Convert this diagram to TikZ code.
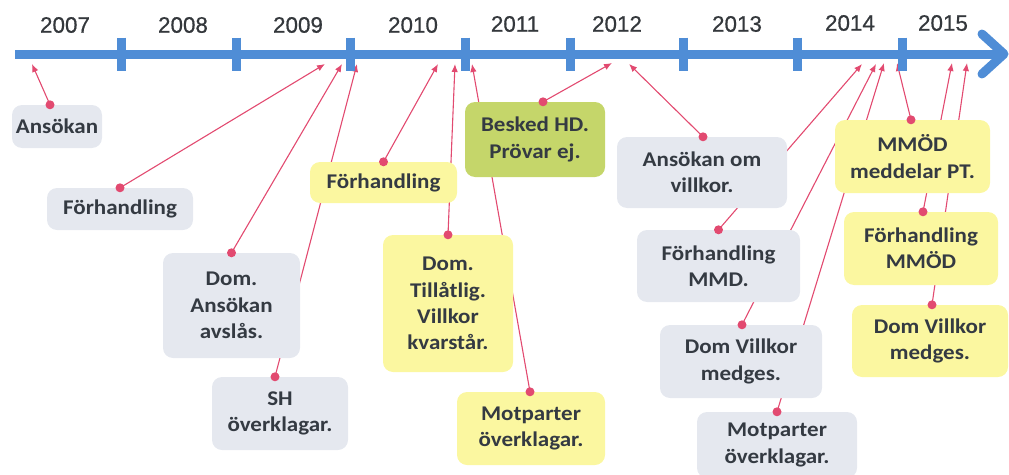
\documentclass[tikz,border=0pt]{standalone}
\usepackage{fontspec}
\setmainfont{Carlito}[FakeStretch=1.1]
\newfontfamily\yearfont{Liberation Sans}[FakeBold=0.6]
\usepackage{tikz}
\usetikzlibrary{arrows.meta,backgrounds}

\definecolor{axisblue}{RGB}{79,141,214}
\definecolor{pinred}{RGB}{226,74,112}
\definecolor{boxgray}{RGB}{229,232,239}
\definecolor{boxyellow}{RGB}{251,247,160}
\definecolor{boxgreen}{RGB}{197,214,106}
\definecolor{textdark}{RGB}{52,58,66}
\definecolor{yeardark}{RGB}{52,56,60}

\tikzset{
  box/.style={rounded corners=10bp,inner sep=0bp,align=center,text=textdark,
    font=\fontsize{21}{26.5}\selectfont\bfseries},
  graybox/.style={box,fill=boxgray},
  yellowbox/.style={box,fill=boxyellow},
  greenbox/.style={box,fill=boxgreen},
  year/.style={text=yeardark,font=\fontsize{22.5}{27}\selectfont\yearfont},
  axis/.style={draw=axisblue,line width=9bp},
  tickmark/.style={draw=axisblue,line width=9bp},
  link/.style={draw=pinred,line width=1.1bp,-{Latex[length=8bp,width=6.5bp]}},
  pin/.style={fill=pinred}
}

\begin{document}
\begin{tikzpicture}

\useasboundingbox (0bp,0bp) rectangle (1009bp,-475bp);

% timeline
\draw [axis] (15bp,-54bp) -- (998bp,-54bp);
\draw [axis,line cap=round,line join=round] (982bp,-34bp) -- (1004bp,-54bp) -- (982bp,-74bp);
\draw [tickmark] (121bp,-37.5bp) -- (121bp,-70.5bp);
\draw [tickmark] (236bp,-37.5bp) -- (236bp,-70.5bp);
\draw [tickmark] (350bp,-37.5bp) -- (350bp,-70.5bp);
\draw [tickmark] (465bp,-37.5bp) -- (465bp,-70.5bp);
\draw [tickmark] (570bp,-37.5bp) -- (570bp,-70.5bp);
\draw [tickmark] (683bp,-37.5bp) -- (683bp,-70.5bp);
\draw [tickmark] (797bp,-37.5bp) -- (797bp,-70.5bp);
\draw [tickmark] (902bp,-37.5bp) -- (902bp,-70.5bp);

\node (y2007) at (65bp,-25bp)[year] {2007};
\node (y2008) at (183bp,-25bp)[year] {2008};
\node (y2009) at (298bp,-25bp)[year] {2009};
\node (y2010) at (413bp,-25bp)[year] {2010};
\node (y2011) at (515bp,-24bp)[year] {2011};
\node (y2012) at (617bp,-24bp)[year] {2012};
\node (y2013) at (737bp,-24bp)[year] {2013};
\node (y2014) at (850bp,-23bp)[year] {2014};
\node (y2015) at (943bp,-23bp)[year] {2015};

% events
\node (ans) at (57bp,-126.5bp)[graybox,minimum width=90bp,minimum height=43bp] {Ansökan};
\node (forh) at (120bp,-209bp)[graybox,minimum width=146bp,minimum height=42bp] {Förhandling};
\node (avslas) at (231.5bp,-305.5bp)[graybox,minimum width=137bp,minimum height=105bp] {Dom.\\Ansökan\\avslås.};
\node (shovk) at (280bp,-413.5bp)[graybox,minimum width=136bp,minimum height=73bp] {SH\\överklagar.};
\node (forhb) at (383.5bp,-182.5bp)[yellowbox,minimum width=147bp,minimum height=41bp] {Förhandling};
\node (tillat) at (448bp,-303.5bp)[yellowbox,minimum width=130bp,minimum height=137bp] {Dom.\\Tillåtlig.\\Villkor\\kvarstår.};
\node (hd) at (535bp,-139.5bp)[greenbox,minimum width=140bp,minimum height=75bp] {Besked HD.\\Prövar ej.};
\node (motp) at (531bp,-428.5bp)[yellowbox,minimum width=148bp,minimum height=73bp] {Motparter\\överklagar.};
\node (ansv) at (702bp,-172.5bp)[graybox,minimum width=170bp,minimum height=71bp] {Ansökan om\\villkor.};
\node (mmd) at (718.5bp,-266bp)[graybox,minimum width=163bp,minimum height=72bp] {Förhandling\\MMD.};
\node (medg) at (741bp,-361.5bp)[graybox,minimum width=162bp,minimum height=73bp] {Dom Villkor\\medges.};
\node (motpb) at (777bp,-445bp)[graybox,minimum width=160bp,minimum height=66bp] {Motparter\\överklagar.};
\node (mmod) at (912.5bp,-156.5bp)[yellowbox,minimum width=155bp,minimum height=73bp] {MMÖD\\meddelar PT.};
\node (forhmmod) at (921bp,-248.5bp)[yellowbox,minimum width=154bp,minimum height=73bp] {Förhandling\\MMÖD};
\node (medgb) at (930bp,-341bp)[yellowbox,minimum width=156bp,minimum height=72bp] {Dom Villkor\\medges.};

% pins on the boxes
\coordinate (ans-p) at ([xshift=-7bp]ans.north);
\coordinate (forh-p) at (forh.north);
\coordinate (avslas-p) at (avslas.north);
\coordinate (shovk-p) at ([xshift=-5bp]shovk.north);
\coordinate (forhb-p) at (forhb.north);
\coordinate (tillat-p) at (tillat.north);
\coordinate (hd-p) at ([xshift=8bp]hd.north);
\coordinate (motp-p) at ([xshift=-1bp]motp.north);
\coordinate (ansv-p) at ([xshift=1bp]ansv.north);
\coordinate (mmd-p) at (mmd.north);
\coordinate (medg-p) at ([xshift=1bp]medg.north);
\coordinate (motpb-p) at (motpb.north);
\coordinate (mmod-p) at ([xshift=-1.5bp]mmod.north);
\coordinate (forhmmod-p) at ([xshift=2bp]forhmmod.north);
\coordinate (medgb-p) at ([xshift=2bp]medgb.north);

% points on the timeline
\coordinate (ans-t) at (32bp,-64bp);
\coordinate (forh-t) at (325bp,-64bp);
\coordinate (avslas-t) at (342bp,-64bp);
\coordinate (shovk-t) at (357bp,-64bp);
\coordinate (forhb-t) at (438bp,-64bp);
\coordinate (tillat-t) at (455bp,-64bp);
\coordinate (hd-t) at (612bp,-63bp);
\coordinate (motp-t) at (472bp,-64bp);
\coordinate (ansv-t) at (629bp,-64bp);
\coordinate (mmd-t) at (862bp,-64bp);
\coordinate (medg-t) at (876bp,-64bp);
\coordinate (motpb-t) at (884bp,-63bp);
\coordinate (mmod-t) at (897bp,-63bp);
\coordinate (forhmmod-t) at (952bp,-63bp);
\coordinate (medgb-t) at (967bp,-63bp);

\begin{pgfonlayer}{background}
\draw [link] (ans-p) -- (ans-t);
\draw [link] (forh-p) -- (forh-t);
\draw [link] (avslas-p) -- (avslas-t);
\draw [link] (shovk-p) -- (shovk-t);
\draw [link] (forhb-p) -- (forhb-t);
\draw [link] (tillat-p) -- (tillat-t);
\draw [link] (hd-p) -- (hd-t);
\draw [link] (motp-p) -- (motp-t);
\draw [link] (ansv-p) -- (ansv-t);
\draw [link] (mmd-p) -- (mmd-t);
\draw [link] (medg-p) -- (medg-t);
\draw [link] (motpb-p) -- (motpb-t);
\draw [link] (mmod-p) -- (mmod-t);
\draw [link] (forhmmod-p) -- (forhmmod-t);
\draw [link] (medgb-p) -- (medgb-t);
\end{pgfonlayer}

\fill [pin] (ans-p) circle (4.5bp);
\fill [pin] (forh-p) circle (4.5bp);
\fill [pin] (avslas-p) circle (4.5bp);
\fill [pin] (shovk-p) circle (4.5bp);
\fill [pin] (forhb-p) circle (4.5bp);
\fill [pin] (tillat-p) circle (4.5bp);
\fill [pin] (hd-p) circle (4.5bp);
\fill [pin] (motp-p) circle (4.5bp);
\fill [pin] (ansv-p) circle (4.5bp);
\fill [pin] (mmd-p) circle (4.5bp);
\fill [pin] (medg-p) circle (4.5bp);
\fill [pin] (motpb-p) circle (4.5bp);
\fill [pin] (mmod-p) circle (4.5bp);
\fill [pin] (forhmmod-p) circle (4.5bp);
\fill [pin] (medgb-p) circle (4.5bp);
\end{tikzpicture}
\end{document}
